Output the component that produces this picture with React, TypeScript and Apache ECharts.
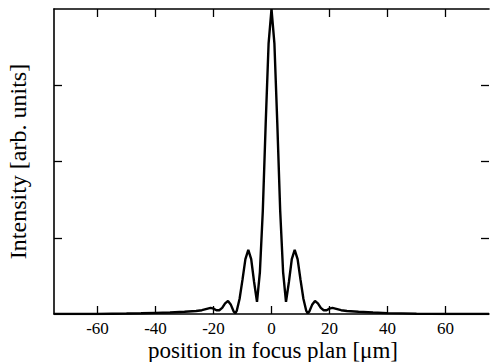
import React, { useEffect, useRef } from "react";
import * as echarts from "echarts";

const positions = [
  -75, -60, -55, -50, -45, -40, -35, -30, -26, -24, -22, -21, -20, -19, -18, -17, -16, -15, -14, -13, -12.5, -12,
  -11, -10, -9, -8, -7, -6, -5, -4, -3, -2, -1, 0, 1, 2, 3, 4, 5, 6, 7, 8, 9, 10, 11, 12, 12.5, 13, 14, 15, 16,
  17, 18, 19, 20, 21, 22, 24, 26, 30, 35, 40, 45, 50, 55, 60, 75,
];
const intensity = [
  0, 0, 0.003, 0.006, 0.01, 0.015, 0.02, 0.03, 0.04, 0.05, 0.07, 0.08, 0.07, 0.05, 0.05, 0.08, 0.14, 0.17, 0.12,
  0.03, 0.01, 0.04, 0.2, 0.45, 0.72, 0.84, 0.72, 0.42, 0.16, 0.55, 1.35, 2.5, 3.55, 4.0, 3.55, 2.5, 1.35, 0.55,
  0.16, 0.42, 0.72, 0.84, 0.72, 0.45, 0.2, 0.04, 0.01, 0.03, 0.12, 0.17, 0.14, 0.08, 0.05, 0.05, 0.07, 0.08, 0.07,
  0.05, 0.04, 0.03, 0.02, 0.012, 0.008, 0.004, 0.002, 0, 0,
];
const xTicks = [-60, -40, -20, 0, 20, 40, 60];
const yTicks = [1, 2, 3];
const xTitle = "position in focus plan [μm]";
const yTitle = "Intensity [arb. units]";

const FONT = "'Liberation Serif', 'DejaVu Serif', serif";

export default function App() {
  const ref = useRef<HTMLDivElement>(null);
  useEffect(() => {
    if (!ref.current) return;
    const chart = echarts.init(ref.current, null, { renderer: "svg" });
    const axisLine = { show: true, onZero: false, lineStyle: { color: "#000", width: 1.6 } };
    const tick = { inside: true, length: 8, lineStyle: { color: "#000", width: 1.3 } };
    chart.setOption({
      animation: false,
      backgroundColor: "#fff",
      grid: { left: 54, right: 1, top: 9, bottom: 48, containLabel: false, outerBoundsMode: "none" },
      graphic: [
        {
          type: "text",
          x: 273,
          y: 350,
          style: {
            text: xTitle,
            fill: "#000",
            font: `23px ${FONT}`,
            textAlign: "center",
            textVerticalAlign: "middle",
          },
        },
      ],
      xAxis: [
        {
          type: "value",
          min: -75,
          max: 75,
          position: "bottom",
          axisLine,
          axisTick: { ...tick, customValues: xTicks },
          axisLabel: {
            customValues: xTicks,
            color: "#000",
            fontFamily: FONT,
            fontSize: 17,
            margin: 6,
          },
          splitLine: { show: false },
        },
        {
          type: "value",
          min: -75,
          max: 75,
          position: "top",
          axisLine,
          axisTick: { ...tick, customValues: xTicks },
          axisLabel: { show: false },
          splitLine: { show: false },
        },
      ],
      yAxis: [
        {
          type: "value",
          min: 0,
          max: 4,
          position: "left",
          axisLine,
          axisTick: { ...tick, customValues: yTicks },
          axisLabel: { show: false },
          splitLine: { show: false },
          name: yTitle,
          nameLocation: "middle",
          nameGap: 24,
          nameTextStyle: { color: "#000", fontFamily: FONT, fontSize: 24 },
        },
        {
          type: "value",
          min: 0,
          max: 4,
          position: "right",
          axisLine: { ...axisLine, lineStyle: { color: "#fff", width: 0 } },
          axisTick: { ...tick, customValues: yTicks },
          axisLabel: { show: false },
          splitLine: { show: false },
        },
      ],
      series: [
        {
          type: "line",
          data: positions.map((p, i) => [p, intensity[i]]),
          showSymbol: false,
          smooth: false,
          lineStyle: { color: "#000", width: 2.4 },
          clip: true,
        },
      ],
    });
    return () => chart.dispose();
  }, []);
  return (
    <div
      ref={ref}
      style={{ position: "fixed", left: 0, top: 0, width: 490, height: 362 }}
    />
  );
}
